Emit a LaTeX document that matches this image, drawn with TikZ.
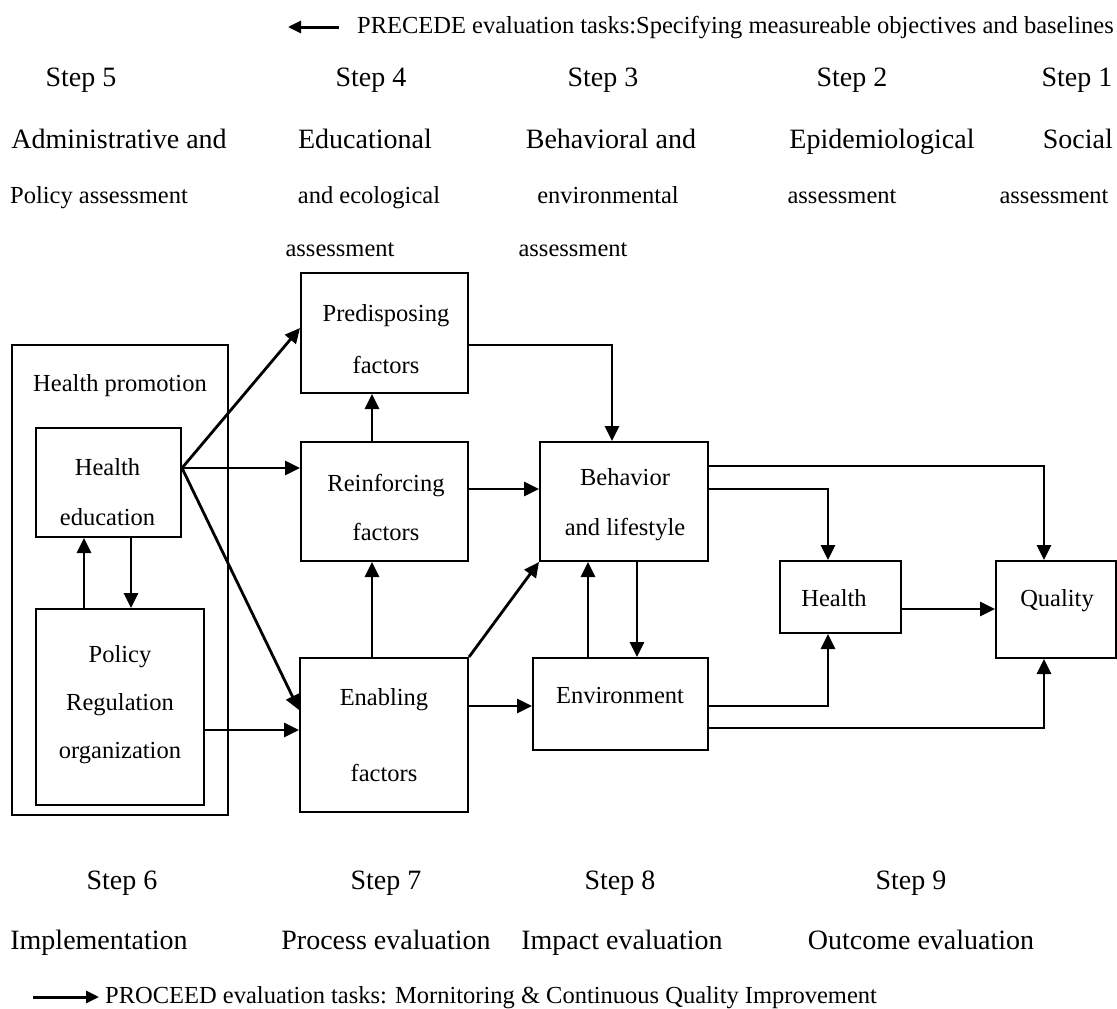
\documentclass[tikz,border=0pt]{standalone}
\usepackage{fontspec}
\setmainfont{Liberation Serif}
\usetikzlibrary{arrows.meta}
\begin{document}
\begin{tikzpicture}[x=1pt,y=-1pt,
  box/.style={draw, line width=2pt, inner sep=0pt},
  txt/.style={inner sep=0pt, align=center, font=\fontsize{24.5}{50}\selectfont},
  lab/.style={inner sep=0pt, font=\fontsize{24.5}{30}\selectfont, text height=17.5pt, text depth=5.3pt},
  big/.style={inner sep=0pt, font=\fontsize{28}{30}\selectfont, text height=20pt, text depth=6pt},
  arr/.style={line width=2.8pt, -{Triangle[length=15pt,width=14pt]}},
  legarr/.style={line width=3pt, -{Triangle[length=13pt,width=12pt]}}]
\useasboundingbox (0,0) rectangle (1117,1009);

% ---- boxes ----
\node[box, minimum width=216pt, minimum height=470pt] (prom) at (120,580) {};
\node[box, minimum width=145pt, minimum height=109pt] (he) at (108.5,482.5) {};
\node[box, minimum width=168pt, minimum height=196pt] (pol) at (120,707) {};
\node[box, minimum width=167pt, minimum height=120pt] (pre) at (384.5,333) {};
\node[box, minimum width=167pt, minimum height=119pt] (rei) at (384.5,501.5) {};
\node[box, minimum width=168pt, minimum height=154pt] (ena) at (384,735) {};
\node[box, minimum width=168pt, minimum height=119pt] (beh) at (624,501.5) {};
\node[box, minimum width=175pt, minimum height=92pt] (env) at (620.5,704) {};
\node[box, minimum width=121pt, minimum height=72pt] (hea) at (840.5,597) {};
\node[box, minimum width=120pt, minimum height=97pt] (qua) at (1056,609.5) {};

% ---- box texts ----
\node[lab] (prom-t) at (120,385) {Health promotion};
\node[txt] (he-t) at (107.5,492) {Health\\education};
\node[txt, font=\fontsize{24.5}{48}\selectfont] (pol-t) at (120,705) {Policy\\Regulation\\organization};
\node[txt, font=\fontsize{24.5}{52}\selectfont] (pre-t) at (386,339) {Predisposing\\factors};
\node[txt, font=\fontsize{24.5}{49}\selectfont] (rei-t) at (386,507.5) {Reinforcing\\factors};
\node[txt] (beh-t) at (625,505) {Behavior\\and lifestyle};
\node[txt, font=\fontsize{24.5}{76}\selectfont] (ena-t) at (384,735) {Enabling\\factors};
\node[lab] (env-t) at (620,697) {Environment};
\node[lab] (hea-t) at (834,600) {Health};
\node[lab] (qua-t) at (1057,600) {Quality};

% ---- connectors ----
\coordinate (heo) at (he.east |- 0,468);
\draw[arr] (heo) -- (pre.west |- 0,328);
\draw[arr] (heo) -- (rei.west |- heo);
\draw[arr] (heo) -- (ena.west |- 0,710);
\draw[arr] (pol.north -| 84,0) -- (he.south -| 84,0);
\draw[arr] (he.south -| 131,0) -- (pol.north -| 131,0);
\draw[arr] (pol.east |- 0,730) -- (ena.west |- 0,730);
\draw[arr] (ena.north -| 372,0) -- (rei.south -| 372,0);
\draw[arr] (rei.north -| 372,0) -- (pre.south -| 372,0);
\draw[arr] (pre.east |- 0,345) -| (beh.north -| 612,0);
\draw[arr] (rei.east |- 0,489) -- (beh.west |- 0,489);
\draw[arr] (ena.north east) -- (beh.south west);
\draw[arr] (ena.east |- 0,706) -- (env.west |- 0,706);
\draw[arr] (env.north -| 588,0) -- (beh.south -| 588,0);
\draw[arr] (beh.south -| 637,0) -- (env.north -| 637,0);
\draw[arr] (beh.east |- 0,466) -| (qua.north -| 1044,0);
\draw[arr] (beh.east |- 0,489) -| (hea.north -| 828,0);
\draw[arr] (hea.east |- 0,609) -- (qua.west |- 0,609);
\draw[arr] (env.east |- 0,706) -| (hea.south -| 828,0);
\draw[arr] (env.east |- 0,728) -| (qua.south -| 1044,0);

% ---- top legend ----
\coordinate (lgA) at (339,27);
\coordinate (lgB) at (288,27);
\draw[legarr] (lgA) -- (lgB);
\node[lab, anchor=west] (precede) at (357,27) {PRECEDE evaluation tasks:Specifying measureable objectives and baselines};

% ---- top steps ----
\node[big] (s5) at (81,79) {Step 5};
\node[big] (s4) at (371,79) {Step 4};
\node[big] (s3) at (603,79) {Step 3};
\node[big] (s2) at (852,79) {Step 2};
\node[big] (s1) at (1077,79) {Step 1};

\node[big] (a5) at (119,141) {Administrative and};
\node[big] (a4) at (365,141) {Educational};
\node[big] (a3) at (611,141) {Behavioral and};
\node[big] (a2) at (882,141) {Epidemiological};
\node[big, anchor=east] (a1) at (1113,141) {Social};

\node[lab] (b5) at (99,197) {Policy assessment};
\node[lab] (b4) at (369,197) {and ecological};
\node[lab] (b3) at (608,197) {environmental};
\node[lab] (b2) at (842,197) {assessment};
\node[lab] (b1) at (1054,197) {assessment};

\node[lab] (c4) at (340,250) {assessment};
\node[lab] (c3) at (573,250) {assessment};

% ---- bottom steps ----
\node[big] (s6) at (122,882) {Step 6};
\node[big] (s7) at (386,882) {Step 7};
\node[big] (s8) at (620,882) {Step 8};
\node[big] (s9) at (911,882) {Step 9};

\node[big] (d6) at (99,942) {Implementation};
\node[big] (d7) at (386,942) {Process evaluation};
\node[big] (d8) at (622,942) {Impact evaluation};
\node[big] (d9) at (921,942) {Outcome evaluation};

% ---- bottom legend ----
\coordinate (lgC) at (33,997);
\coordinate (lgD) at (99,997);
\draw[legarr] (lgC) -- (lgD);
\node[lab, anchor=west] (proceed) at (105,997) {PROCEED evaluation tasks: Mornitoring \& Continuous Quality Improvement};
\end{tikzpicture}
\end{document}
